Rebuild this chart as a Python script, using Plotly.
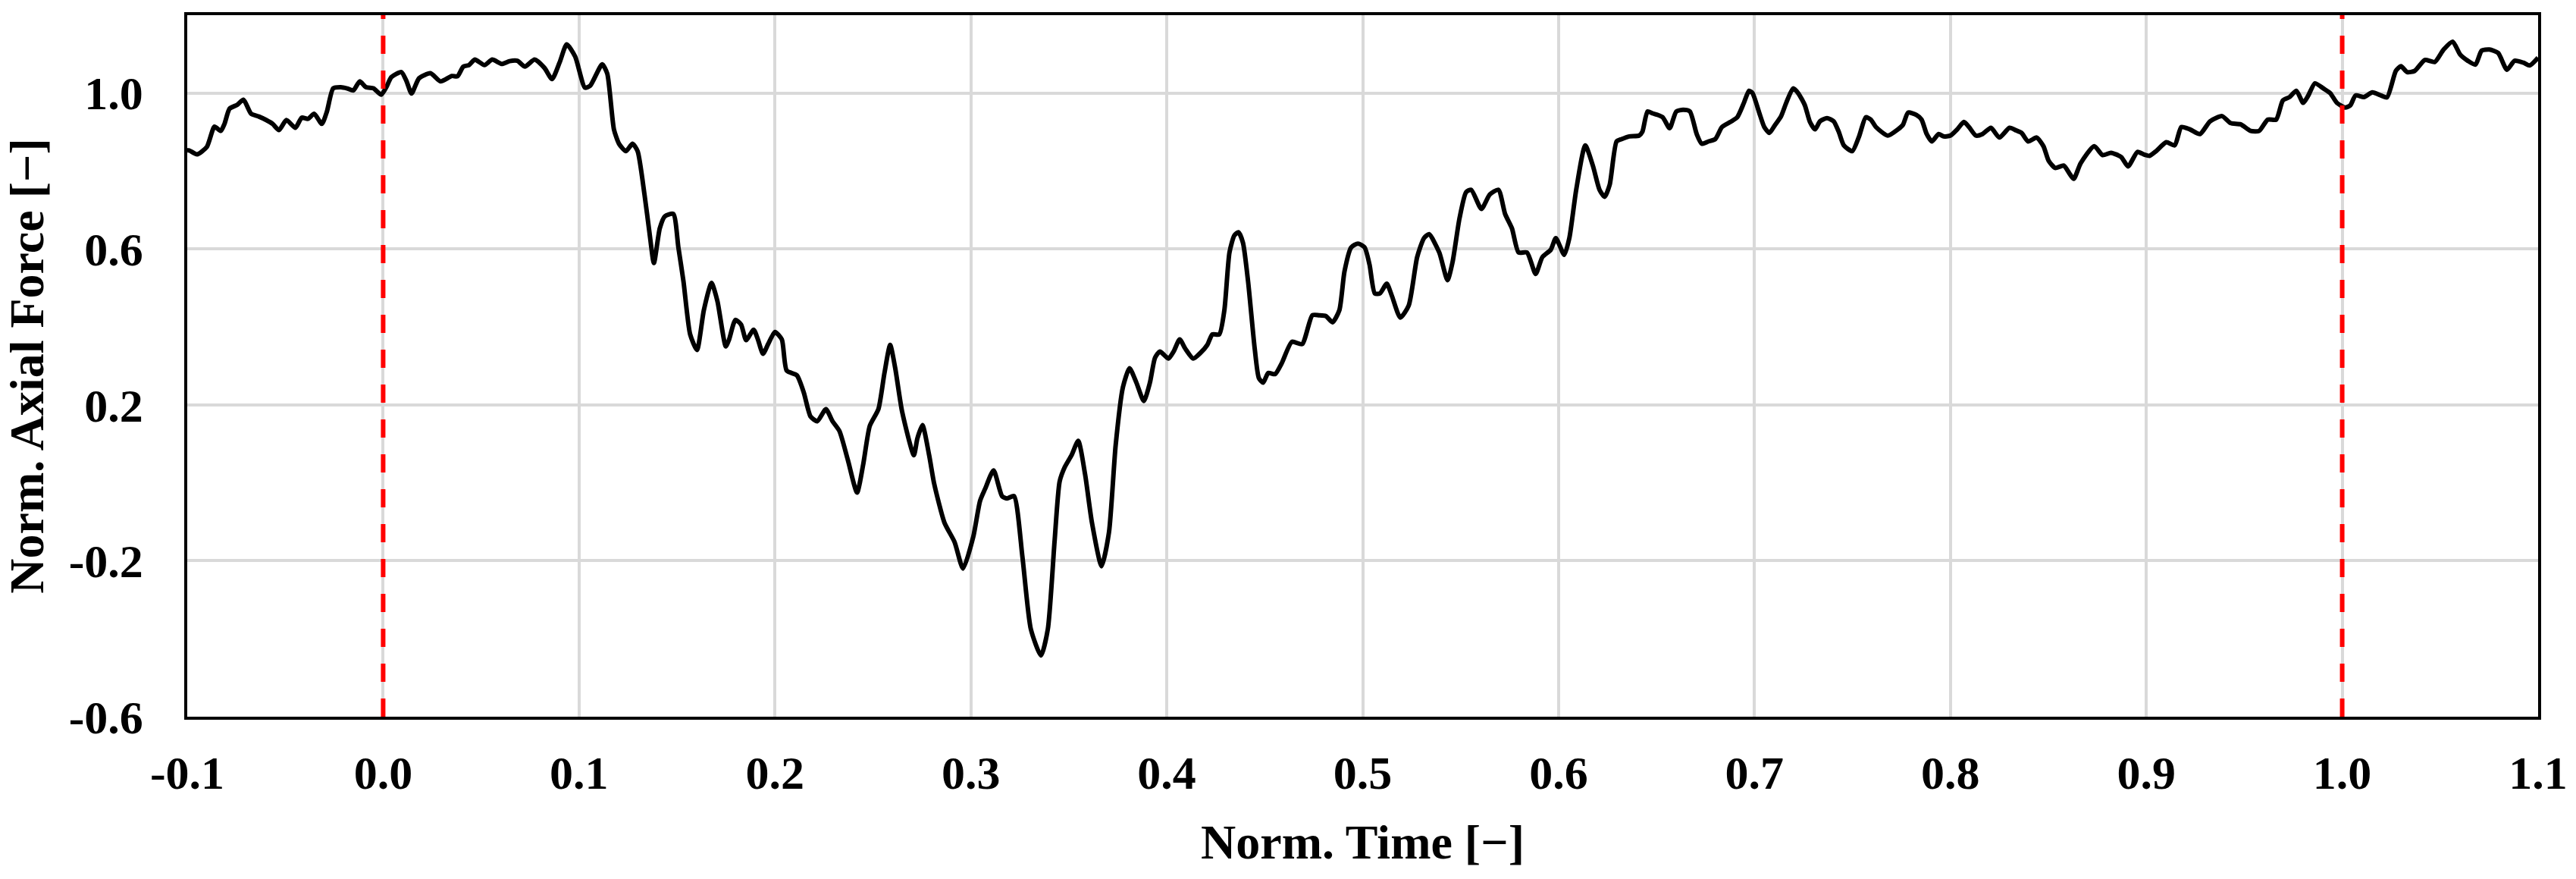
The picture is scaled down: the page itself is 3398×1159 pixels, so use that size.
import plotly.graph_objects as go

# Normalized time (x) and normalized axial force (y)
time = [
    -0.1000, -0.0990, -0.0950, -0.0900, -0.0861, -0.0829, -0.0810, -0.0784, -0.0745, -0.0713,
    -0.0674, -0.0635, -0.0597, -0.0564, -0.0532, -0.0494, -0.0448, -0.0416, -0.0384, -0.0352,
    -0.0313, -0.0287, -0.0255, -0.0216, -0.0184, -0.0152, -0.0120, -0.0087, -0.0049, -0.0010,
    0.0016, 0.0042, 0.0093, 0.0119, 0.0145, 0.0183, 0.0241, 0.0293, 0.0351,
    0.0379, 0.0409, 0.0438, 0.0468, 0.0517, 0.0557, 0.0606, 0.0645, 0.0685, 0.0724,
    0.0773, 0.0823, 0.0862, 0.0901, 0.0937, 0.0980, 0.1030,
    0.1057, 0.1118, 0.1144, 0.1178, 0.1204, 0.1239, 0.1273, 0.1299, 0.1334, 0.1360,
    0.1382, 0.1412, 0.1438, 0.1481, 0.1507, 0.1533, 0.1567, 0.1602, 0.1637, 0.1676,
    0.1706, 0.1749, 0.1766, 0.1798, 0.1827, 0.1853, 0.1891, 0.1913, 0.1939, 0.1965,
    0.2000, 0.2035, 0.2060, 0.2112, 0.2147, 0.2182, 0.2216, 0.2260, 0.2294, 0.2329,
    0.2372, 0.2419, 0.2450, 0.2484, 0.2528, 0.2559, 0.2588, 0.2614, 0.2649, 0.2709,
    0.2727, 0.2753, 0.2787, 0.2813, 0.2865, 0.2917, 0.2960, 0.3012, 0.3047, 0.3073,
    0.3116, 0.3159, 0.3185, 0.3220, 0.3263, 0.3306, 0.3358, 0.3393, 0.3427, 0.3453,
    0.3479, 0.3514, 0.3548, 0.3583, 0.3618, 0.3667, 0.3705, 0.3739,
    0.3776, 0.3810, 0.3845, 0.3883, 0.3914, 0.3940, 0.3965, 0.4009, 0.4035, 0.4066,
    0.4095, 0.4135, 0.4173, 0.4207, 0.4233, 0.4268, 0.4294, 0.4320, 0.4345, 0.4366,
    0.4389, 0.4415, 0.4449, 0.4470, 0.4492, 0.4518, 0.4553, 0.4587, 0.4639, 0.4691,
    0.4743, 0.4777, 0.4812, 0.4846, 0.4881, 0.4907, 0.4941, 0.4976, 0.5010, 0.5035,
    0.5062, 0.5088, 0.5123, 0.5149, 0.5192, 0.5235, 0.5278, 0.5313, 0.5339, 0.5391,
    0.5433, 0.5459, 0.5494, 0.5528, 0.5554, 0.5606, 0.5649, 0.5693, 0.5727, 0.5762,
    0.5796, 0.5839, 0.5883, 0.5917, 0.5960, 0.5986, 0.6029, 0.6055, 0.6090, 0.6136,
    0.6175, 0.6209, 0.6235, 0.6261, 0.6296, 0.6321, 0.6361,
    0.6411, 0.6428, 0.6454, 0.6480, 0.6506, 0.6532, 0.6567, 0.6601, 0.6636, 0.6670,
    0.6705, 0.6731, 0.6765, 0.6800, 0.6834, 0.6877, 0.6912, 0.6946, 0.6972, 0.6990,
    0.7024, 0.7050, 0.7076, 0.7102, 0.7136, 0.7162, 0.7197, 0.7223, 0.7257, 0.7283,
    0.7309, 0.7335, 0.7370, 0.7404, 0.7430, 0.7456, 0.7499, 0.7534, 0.7568, 0.7594,
    0.7620, 0.7680, 0.7732, 0.7758, 0.7784, 0.7827, 0.7853, 0.7879, 0.7905, 0.7940,
    0.7965, 0.8000, 0.8035, 0.8069, 0.8095, 0.8130, 0.8164, 0.8207, 0.8250, 0.8302,
    0.8337, 0.8363, 0.8397, 0.8440, 0.8475, 0.8501, 0.8535, 0.8579, 0.8610, 0.8630,
    0.8665, 0.8734, 0.8777, 0.8820, 0.8872, 0.8907,
    0.8955, 0.8990, 0.9016, 0.9050, 0.9102, 0.9145, 0.9179, 0.9223, 0.9274, 0.9326,
    0.9387, 0.9430, 0.9481, 0.9533, 0.9576, 0.9620, 0.9663, 0.9697, 0.9732, 0.9766,
    0.9801, 0.9827, 0.9861, 0.9904, 0.9939, 0.9973, 1.0016, 1.0042, 1.0068, 1.0111,
    1.0154, 1.0198, 1.0229,
    1.0274, 1.0300, 1.0332, 1.0370, 1.0422, 1.0473, 1.0518, 1.0564, 1.0602, 1.0641,
    1.0680, 1.0712, 1.0751, 1.0796, 1.0841, 1.0880, 1.0925, 1.0957, 1.1000,
]

force = [
    0.853, 0.853, 0.843, 0.862, 0.914, 0.903, 0.921, 0.960, 0.970, 0.983,
    0.947, 0.940, 0.931, 0.921, 0.905, 0.931, 0.911, 0.937, 0.934, 0.947,
    0.921, 0.953, 1.012, 1.015, 1.012, 1.007, 1.030, 1.015, 1.012, 0.996,
    1.015, 1.041, 1.054, 1.031, 0.999, 1.038, 1.051, 1.030, 1.044,
    1.043, 1.068, 1.072, 1.086, 1.072, 1.086, 1.075, 1.082, 1.083, 1.068,
    1.086, 1.065, 1.036, 1.079, 1.125, 1.094, 1.014,
    1.019, 1.074, 1.050, 0.907, 0.870, 0.851, 0.870, 0.851, 0.740, 0.640,
    0.564, 0.653, 0.684, 0.690, 0.604, 0.517, 0.381, 0.341, 0.443, 0.513,
    0.467, 0.350, 0.368, 0.418, 0.406, 0.366, 0.393, 0.368, 0.331, 0.356,
    0.387, 0.368, 0.288, 0.276, 0.232, 0.170, 0.158, 0.189, 0.158, 0.133,
    0.059, -0.025, 0.046, 0.146, 0.189, 0.282, 0.354, 0.294, 0.183, 0.071,
    0.114, 0.148, 0.071, -0.003, -0.102, -0.152, -0.220, -0.139, -0.046, -0.015,
    0.032, -0.034, -0.040, -0.034, -0.189, -0.375, -0.443, -0.375, -0.152, 0.003,
    0.040, 0.071, 0.108, 0.022, -0.102, -0.214, -0.127, 0.096,
    0.245, 0.294, 0.257, 0.210, 0.257, 0.321, 0.337, 0.319, 0.337, 0.368,
    0.344, 0.319, 0.334, 0.354, 0.381, 0.381, 0.443, 0.591, 0.635, 0.643,
    0.616, 0.517, 0.344, 0.269, 0.257, 0.282, 0.279, 0.307, 0.362, 0.356,
    0.430, 0.430, 0.428, 0.412, 0.443, 0.542, 0.604, 0.614, 0.604, 0.560,
    0.486, 0.486, 0.511, 0.480, 0.424, 0.455, 0.579, 0.628, 0.638, 0.591,
    0.520, 0.567, 0.678, 0.746, 0.752, 0.703, 0.740, 0.752, 0.690, 0.653,
    0.591, 0.591, 0.536, 0.579, 0.598, 0.628, 0.585, 0.628, 0.752, 0.866,
    0.814, 0.752, 0.734, 0.765, 0.876, 0.882, 0.889,
    0.891, 0.901, 0.953, 0.948, 0.944, 0.938, 0.910, 0.953, 0.957, 0.953,
    0.895, 0.870, 0.876, 0.882, 0.913, 0.926, 0.938, 0.975, 1.006, 1.000,
    0.950, 0.913, 0.898, 0.916, 0.941, 0.975, 1.012, 1.000, 0.969, 0.926,
    0.907, 0.928, 0.936, 0.928, 0.901, 0.866, 0.851, 0.889, 0.938, 0.932,
    0.913, 0.891, 0.907, 0.919, 0.950, 0.944, 0.932, 0.895, 0.876, 0.895,
    0.889, 0.891, 0.907, 0.926, 0.913, 0.891, 0.895, 0.911, 0.886, 0.911,
    0.904, 0.898, 0.876, 0.886, 0.864, 0.827, 0.808, 0.814, 0.792, 0.780,
    0.820, 0.864, 0.841, 0.847, 0.836, 0.812,
    0.849, 0.842, 0.839, 0.851, 0.874, 0.866, 0.913, 0.907, 0.895, 0.928,
    0.941, 0.923, 0.920, 0.903, 0.903, 0.932, 0.932, 0.981, 0.990, 1.006,
    0.975, 0.994, 1.025, 1.012, 1.000, 0.975, 0.963, 0.969, 0.994, 0.990,
    1.002, 0.994, 0.989,
    1.057, 1.069, 1.054, 1.057, 1.085, 1.080, 1.112, 1.132, 1.099, 1.083,
    1.073, 1.109, 1.112, 1.103, 1.060, 1.083, 1.078, 1.071, 1.091,
]

marker_times = [0.0, 1.0]          # red dashed reference lines

x_ticks = [-0.1, 0.0, 0.1, 0.2, 0.3, 0.4, 0.5, 0.6, 0.7, 0.8, 0.9, 1.0, 1.1]
x_tick_labels = ["-0.1", "0.0", "0.1", "0.2", "0.3", "0.4", "0.5", "0.6",
                 "0.7", "0.8", "0.9", "1.0", "1.1"]
y_ticks = [-0.6, -0.2, 0.2, 0.6, 1.0]
y_tick_labels = ["-0.6", "-0.2", "0.2", "0.6", "1.0"]

x_range = [-0.1, 1.1]
y_range = [-0.6, 1.2]

FONT = "Liberation Serif, Times New Roman, serif"

fig = go.Figure()

fig.add_trace(go.Scatter(
    x=time, y=force, mode="lines",
    line=dict(color="black", width=6, shape="spline", smoothing=0.6),
    showlegend=False, hoverinfo="skip",
))

for t in marker_times:
    fig.add_trace(go.Scatter(
        x=[t, t], y=y_range, mode="lines",
        line=dict(color="#ff0000", width=6, dash="24px,22px"),
        showlegend=False, hoverinfo="skip",
    ))

axis_common = dict(
    showgrid=True, gridcolor="#d9d9d9", gridwidth=3.5,
    showline=True, linecolor="black", linewidth=3.5, mirror=True,
    zeroline=False, ticks="",
    tickfont=dict(family=FONT, size=62, color="black", weight="bold"),
)

fig.update_xaxes(
    range=x_range, tickmode="array", tickvals=x_ticks, ticktext=x_tick_labels,
    ticklabelstandoff=17,
    title=dict(text="Norm. Time [\u2212]", standoff=36,
               font=dict(family=FONT, size=64, color="black", weight="bold")),
    **axis_common,
)
fig.update_yaxes(
    range=y_range, tickmode="array", tickvals=y_ticks, ticktext=y_tick_labels,
    ticklabelstandoff=42,
    title=dict(text="Norm. Axial Force [\u2212]", standoff=25,
               font=dict(family=FONT, size=64, color="black", weight="bold")),
    **axis_common,
)

fig.update_layout(
    width=3398, height=1159,
    margin=dict(l=247, r=50, t=20, b=214, autoexpand=False),
    plot_bgcolor="white", paper_bgcolor="white",
)

fig.write_html(
    "out.html",
    config={"displayModeBar": False},
    post_script="document.body.style.margin='0';document.body.style.overflow='hidden';",
)
